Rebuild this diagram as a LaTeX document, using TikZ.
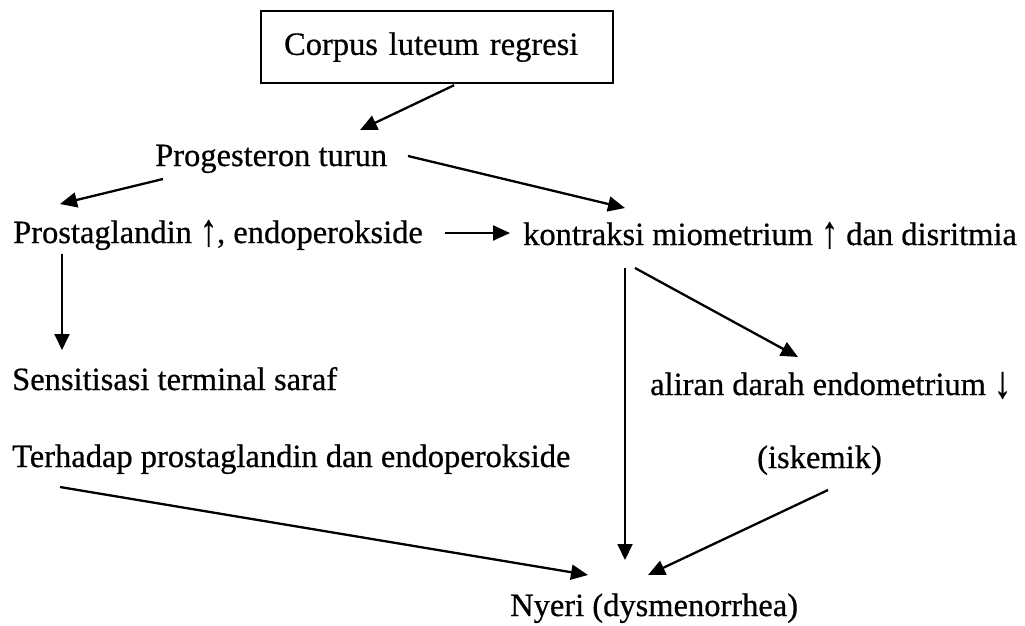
\documentclass[tikz,border=0pt]{standalone}
\usepackage{fontspec}
\setmainfont{Liberation Serif}[FakeBold=0.6]
\usetikzlibrary{arrows.meta,calc}
% taller trend arrows inside the labels
\newcommand{\upar}{\raisebox{-2.5pt}{\scalebox{1.05}[1.4]{↑}}}
\newcommand{\downar}{\raisebox{-2.5pt}{\scalebox{1.05}[1.4]{↓}}}
\begin{document}
\begin{tikzpicture}[x=1pt,y=-1pt,
  txt/.style={inner sep=0pt,anchor=base west,font=\fontsize{32.5}{38}\selectfont},
  arr/.style={line width=2.3pt,-{Triangle[length=17pt,width=15pt]}},
  varr/.style={line width=1.9pt,-{Triangle[length=16pt,width=15pt]}}]
\useasboundingbox (0,0) rectangle (1025,625);
% title box
\node[draw,line width=2.2pt,anchor=north west,text width=306pt,inner xsep=23pt,
      inner ysep=0pt,minimum height=72pt,align=left,
      font=\fontsize{32.5}{38}\selectfont] (box) at (260,10) {Corpus luteum regresi};
% text nodes
\node[txt] (prog)   at (155,166) {Progesteron turun};
\node[txt] (prost)  at (13,243)  {Prostaglandin \upar, endoperokside};
\node[txt] (kontr)  at (523,245) {kontraksi miometrium \upar\ dan disritmia};
\node[txt] (sens)   at (12,390)  {Sensitisasi terminal saraf};
\node[txt] (terh)   at (12,467)  {Terhadap prostaglandin dan endoperokside};
\node[txt] (aliran) at (650,395) {aliran darah endometrium \downar};
\node[txt] (isk)    at (757,468) {(iskemik)};
\node[txt] (nyeri)  at (510,616) {Nyeri (dysmenorrhea)};
% connectors
\draw[arr] ($(box.south)+(17,1)$) -- ($(prog.base west)+(205,-36)$);
\draw[arr] ($(prog.base west)+(8,13)$) -- ($(prost.base west)+(47,-39)$);
\draw[arr] ($(prog.base west)+(253,-10)$) -- ($(kontr.base west)+(102,-37)$);
\draw[arr] ($(prost.base west)+(432,-10)$) -- ($(kontr.base west)+(-13,-12)$);
\draw[varr] ($(prost.base west)+(49,11)$) -- ($(sens.base west)+(50,-40)$);
\draw[arr] ($(kontr.base west)+(112,23)$) -- ($(aliran.base west)+(148,-38)$);
\draw[varr] ($(kontr.base west)+(102,23)$) -- ($(nyeri.base west)+(115,-56)$);
\draw[arr] ($(terh.base west)+(48,20)$) -- ($(nyeri.base west)+(78,-41)$);
\draw[arr] ($(isk.base west)+(71,22)$) -- ($(nyeri.base west)+(138,-41)$);
\end{tikzpicture}
\end{document}
